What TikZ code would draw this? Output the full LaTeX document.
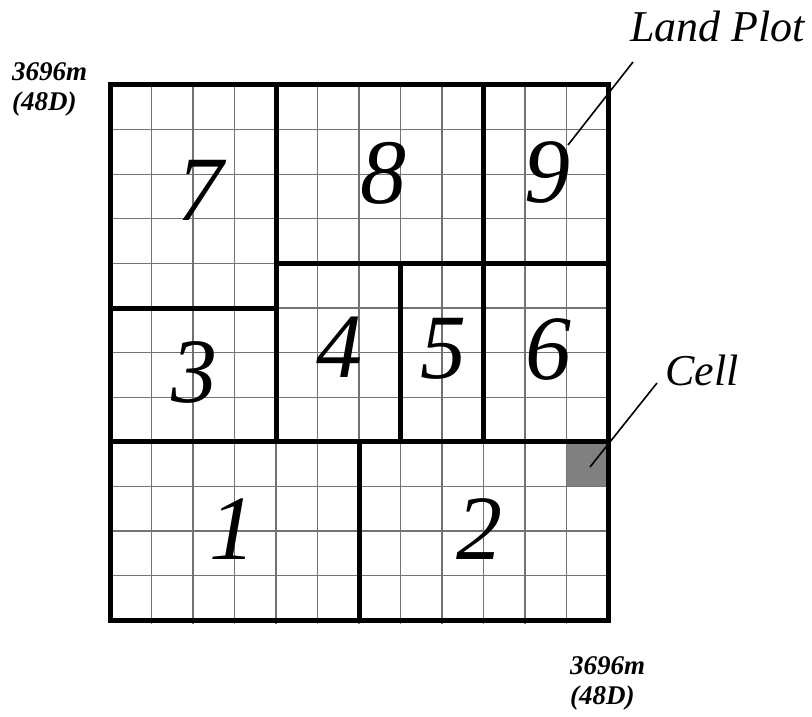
\documentclass[tikz,border=0pt]{standalone}
\usepackage{fontspec}
\setmainfont{Liberation Serif}
\usetikzlibrary{positioning}

\tikzset{
  cellline/.style={black!55, line width=1.1pt},
  plotline/.style={black, line width=5pt, line join=miter},
  plotnum/.style={font=\fontsize{92}{92}\selectfont\itshape, inner sep=0pt},
  dimlabel/.style={font=\fontsize{27}{30}\selectfont\bfseries\itshape, align=left, inner sep=0pt},
  callout/.style={font=\fontsize{44}{44}\selectfont\itshape, inner sep=0pt},
  leader/.style={black, line width=1.6pt},
}

\begin{document}
\begin{tikzpicture}[x=1pt, y=-1pt]
  \useasboundingbox (0,0) rectangle (812,717);
  \begin{scope}[shift={(110,85)}, x=41.5pt, y=-44.6pt]
    % the one marked cell
    \fill[black!50] (11,8) rectangle (12,9);
    % 12 x 12 cells
    \foreach \i in {1,...,11} {
      \draw[cellline] (\i,0) -- (\i,12.08);
      \draw[cellline] (0,\i) -- (12.08,\i);
    }
    % land plots
    \draw[plotline] (0,0) rectangle (4,5);
    \draw[plotline] (4,0) rectangle (9,4);
    \draw[plotline] (9,0) rectangle (12,4);
    \draw[plotline] (0,5) rectangle (4,8);
    \draw[plotline] (4,4) rectangle (7,8);
    \draw[plotline] (7,4) rectangle (9,8);
    \draw[plotline] (9,4) rectangle (12,8);
    \draw[plotline] (0,8) rectangle (6,12);
    \draw[plotline] (6,8) rectangle (12,12);
  \end{scope}

  \node[plotnum] (n7) at (200,190) {7};
  \node[plotnum] (n8) at (383,173) {8};
  \node[plotnum] (n9) at (547,172) {9};
  \node[plotnum] (n3) at (194,372) {3};
  \node[plotnum] (n4) at (339,347) {4};
  \node[plotnum] (n5) at (443,349) {5};
  \node[plotnum] (n6) at (548,349) {6};
  \node[plotnum] (n1) at (232,529) {1};
  \node[plotnum] (n2) at (479,529) {2};

  % size labels
  \node[dimlabel, anchor=north west] (sizeTop) at (12,62) {3696m\\(48D)};
  \node[dimlabel, anchor=north west] (sizeBot) at (570,656) {3696m\\(48D)};

  % callouts
  \node[callout, anchor=base west] (plotLbl) at (630,42) {Land Plot};
  \node[callout, anchor=base west] (cellLbl) at (665,385) {Cell};
  \coordinate (plotTip) at (568,145);
  \coordinate (plotEnd) at (633,62);
  \coordinate (cellTip) at (590,467);
  \coordinate (cellEnd) at (657,383);
  \draw[leader] (plotTip) -- (plotEnd);
  \draw[leader] (cellTip) -- (cellEnd);
\end{tikzpicture}
\end{document}
